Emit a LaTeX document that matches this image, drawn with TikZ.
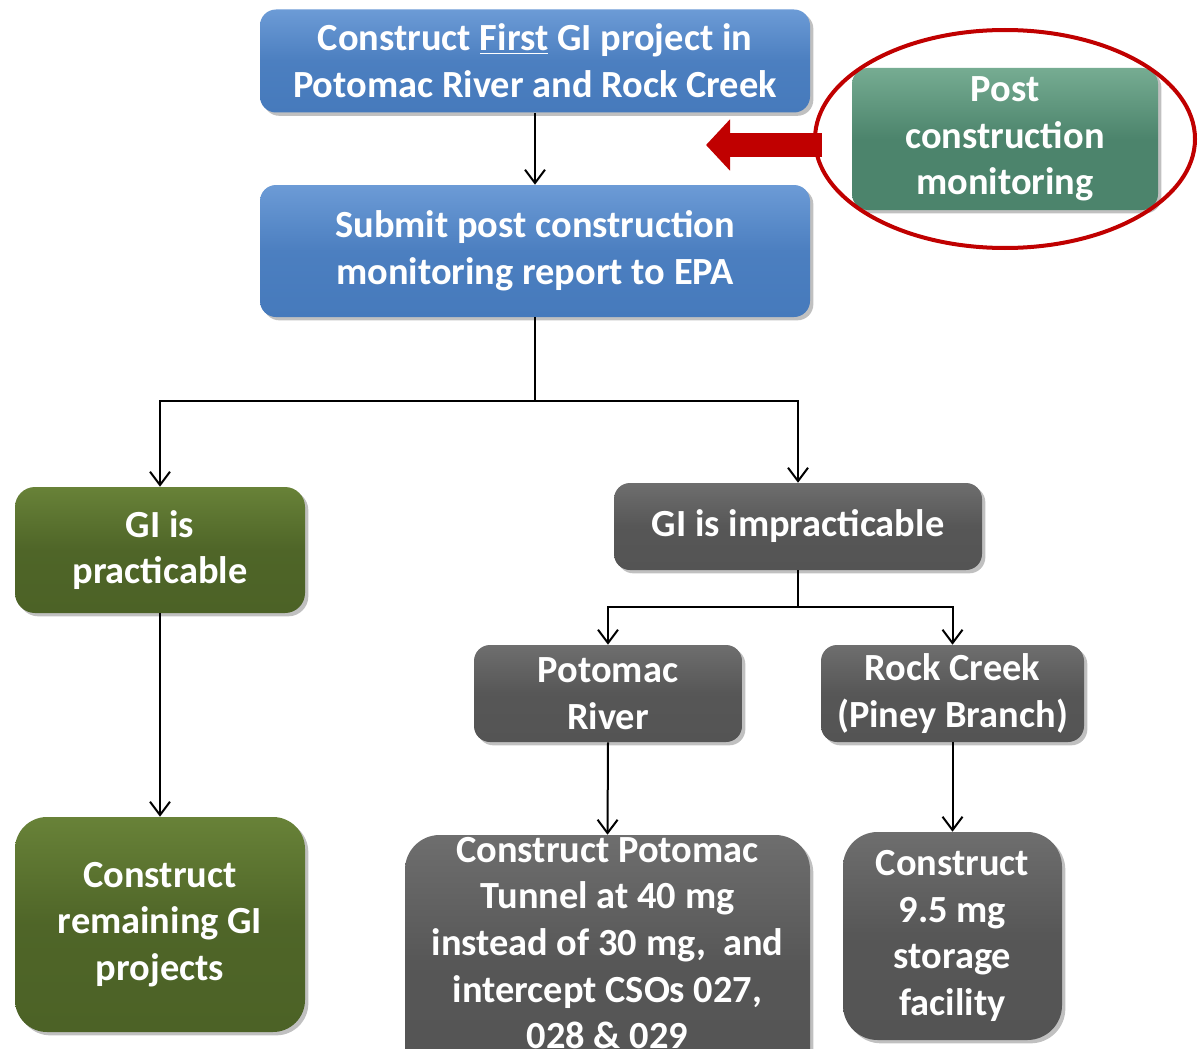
\documentclass[tikz,border=0pt]{standalone}
\usepackage{fontspec}
\setmainfont{Carlito}
\usetikzlibrary{arrows.meta,shapes.geometric,shadows}
\definecolor{bluetop}{RGB}{108,155,214}
\definecolor{bluebot}{RGB}{70,122,188}
\definecolor{tealtop}{RGB}{118,172,146}
\definecolor{tealbot}{RGB}{76,132,108}
\definecolor{olivetop}{RGB}{104,130,56}
\definecolor{olivebot}{RGB}{76,98,38}
\definecolor{graytop}{RGB}{110,110,110}
\definecolor{graybot}{RGB}{84,84,84}
\definecolor{ringred}{RGB}{192,0,0}
\tikzset{
  px/.style={x=0.75pt,y=-0.75pt},
  boxbase/.style={rectangle, text=white, font=\fontsize{28.8}{35}\selectfont\bfseries,
    align=center, inner sep=0pt, draw=none,
    drop shadow={shadow xshift=2.5pt, shadow yshift=-2.5pt, opacity=0.35, fill=black!70}},
  bluebox/.style={boxbase, top color=bluetop, bottom color=bluebot, middle color=bluebot!85!bluetop, rounded corners=12pt},
  tealbox/.style={boxbase, top color=tealtop, bottom color=tealbot, middle color=tealbot, rounded corners=12pt},
  olivebox/.style={boxbase, top color=olivetop, bottom color=olivebot, middle color=olivebot!90!olivetop, rounded corners=15pt},
  graybox/.style={boxbase, top color=graytop, bottom color=graybot, middle color=graybot!90!graytop, rounded corners=12pt},
  txt/.style={text=white, font=\fontsize{28.8}{35}\selectfont\bfseries, align=center, inner sep=0pt},
  conn/.style={line width=1.5pt, draw=black, -{Straight Barb[length=10pt,width=15pt,line width=1.5pt]}},
  plain/.style={line width=1.5pt, draw=black},
}
\begin{document}
\begin{tikzpicture}[px]
\useasboundingbox (0,0) rectangle (1203,1049);
\clip (0,0) rectangle (1203,1049);
\fill[white] (0,0) rectangle (1203,1049);

% boxes
\node[bluebox, minimum width=412.5pt, minimum height=77.25pt] (first) at (535,61)
  {Construct \underline{First} GI project in\\Potomac River and Rock Creek};
\node[bluebox, minimum width=412.5pt, minimum height=99pt] (submit) at (535,251)
  {Submit post construction\\monitoring report to EPA};
\node[tealbox, minimum width=229.5pt, minimum height=106.5pt] (post) at (1005,139)
  {Post\\construction\\monitoring};
\node[olivebox, minimum width=217.5pt, minimum height=94.5pt] (prac) at (160,550)
  {GI is\\practicable};
\node[olivebox, rounded corners=24pt, minimum width=217.5pt, minimum height=161.25pt] (remain) at (160,924.5)
  {Construct\\remaining GI\\projects};
\node[graybox, minimum width=276pt, minimum height=65.25pt] (impr) at (798,526.5)
  {GI is impracticable};
\node[graybox, minimum width=201pt, minimum height=72.75pt] (potomac) at (608,693.5)
  {Potomac\\River};
\node[graybox, minimum width=197.25pt, minimum height=72.75pt] (rock) at (952.5,693.5)
  {Rock Creek\\(Piney Branch)};
\node[graybox, rounded corners=26pt, minimum width=303.75pt, minimum height=195pt] (tunnel) at (607.5,965) {};
\node[txt] (tunneltext) at (607.5,943)
  {Construct Potomac\\Tunnel at 40 mg\\instead of 30 mg,~ and\\intercept CSOs 027,\\028 \& 029};
\node[graybox, rounded corners=26pt, minimum width=164.25pt, minimum height=156pt] (storage) at (952.5,936)
  {Construct\\9.5 mg\\storage\\facility};

% ring and red arrow
\node[ellipse, draw=ringred, line width=3pt, minimum width=285pt, minimum height=163.5pt] (ring) at (1005,139) {};
\coordinate (rs) at (822,145);
\coordinate (re) at (706,145);
\draw[ringred, line width=18pt, -{Triangle[length=18pt,width=37.5pt]}] (rs) -- (re);

% connectors
\draw[conn] (first.south) -- (submit.north);
\coordinate (j1) at (535,401);
\draw[plain] (submit.south) -- (j1);
\draw[conn] (j1) -| (prac.north);
\draw[conn] (j1) -| (impr.north);
\draw[conn] (prac.south) -- (remain.north);
\coordinate (j2) at (798,607);
\draw[plain] (impr.south) -- (j2);
\draw[conn] (j2) -| (potomac.north);
\draw[conn] (j2) -| (rock.north);
\draw[conn] (potomac.south) -- (tunnel.north);
\draw[conn] (rock.south) -- (storage.north);
\end{tikzpicture}
\end{document}
